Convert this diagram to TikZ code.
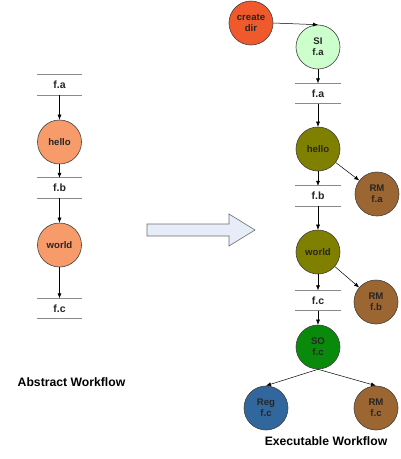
\documentclass[tikz,border=0pt]{standalone}
\usepackage{fontspec}
\setmainfont{Liberation Sans}
\usetikzlibrary{arrows.meta,calc}
\definecolor{ringc}{HTML}{404040}
\definecolor{filec}{HTML}{8A8A8A}
\definecolor{absc}{HTML}{F79B6B}
\definecolor{crc}{HTML}{F0592B}
\definecolor{sic}{HTML}{CCFFCC}
\definecolor{olc}{HTML}{7F7F00}
\definecolor{rmc}{HTML}{9C6633}
\definecolor{soc}{HTML}{0A8A0A}
\definecolor{regc}{HTML}{32679E}
\definecolor{txc}{HTML}{262626}
\definecolor{arrfill}{HTML}{E6ECF8}
\definecolor{arrline}{HTML}{6E6E6E}
\tikzset{
  job/.style={circle,draw=ringc,line width=0.6pt,minimum size=44pt,inner sep=0pt,
    font=\fontsize{9.6}{11}\selectfont\bfseries,text=txc,align=center},
  filebox/.style={minimum width=45pt,minimum height=20pt,inner sep=0pt,
    font=\fontsize{10.5}{11}\selectfont\bfseries,text=txc},
  fileline/.style={draw=filec,line width=0.8pt},
  conn/.style={-{Latex[length=5pt,width=4pt]},line width=0.5pt,black},
  title/.style={font=\fontsize{12.2}{14}\selectfont\bfseries,text=black}
}
\newcommand{\filenode}[3]{%
  \node[filebox] (#1) at (#2) {#3};
  \draw[fileline] (#1.north west) -- (#1.north east);
  \draw[fileline] (#1.south west) -- (#1.south east);
}
\begin{document}
\begin{tikzpicture}[x=1pt,y=-1pt]
\useasboundingbox[fill=white] (0,0) rectangle (400,459);
% abstract workflow
\filenode{afa}{59.5,85}{f.a}
\node[job,fill=absc] (ahello) at (59.5,142) {hello};
\filenode{afb}{59.5,188}{f.b}
\node[job,fill=absc] (aworld) at (59.5,245) {world};
\filenode{afc}{59.5,308.5}{f.c}
\draw[conn] (afa.south) -- (ahello.north);
\draw[conn] (ahello.south) -- (afb.north);
\draw[conn] (afb.south) -- (aworld.north);
\draw[conn] (aworld.south) -- (afc.north);
\node[title] (abs) at (71.5,382) {Abstract Workflow};
% big arrow
\draw[fill=arrfill,draw=arrline,line width=0.6pt]
  (147,224) -- (229,224) -- (229,214) -- (255,230) -- (229,246) -- (229,236) -- (147,236) -- cycle;
% executable workflow
\node[job,fill=crc] (cd) at (251,23) {create\\dir};
\node[job,fill=sic] (si) at (318,47) {SI\\f.a};
\filenode{efa}{318,93.5}{f.a}
\node[job,fill=olc] (ehello) at (318,149) {hello};
\node[job,fill=rmc] (rma) at (377,194) {RM\\f.a};
\filenode{efb}{318,196}{f.b}
\node[job,fill=olc] (eworld) at (318,252) {world};
\node[job,fill=rmc] (rmb) at (376,302) {RM\\f.b};
\filenode{efc}{318,300.5}{f.c}
\node[job,fill=soc] (so) at (318,347) {SO\\f.c};
\node[job,fill=regc] (reg) at (266,408) {Reg\\f.c};
\node[job,fill=rmc] (rmc1) at (376,408) {RM\\f.c};
\draw[conn] (cd.east) -- (si.north);
\draw[conn] (si.south) -- (efa.north);
\draw[conn] (efa.south) -- (ehello.north);
\draw[conn] (ehello) -- (rma);
\draw[conn] (ehello.south) -- (efb.north);
\draw[conn] (efb.south) -- (eworld.north);
\draw[conn] (eworld) -- (rmb);
\draw[conn] (eworld.south) -- (efc.north);
\draw[conn] (efc.south) -- (so.north);
\draw[conn] (so.south) -- (reg.north);
\draw[conn] (so.south) -- (rmc1.north);
\node[title] (exe) at (326,441) {Executable Workflow};
\end{tikzpicture}
\end{document}
